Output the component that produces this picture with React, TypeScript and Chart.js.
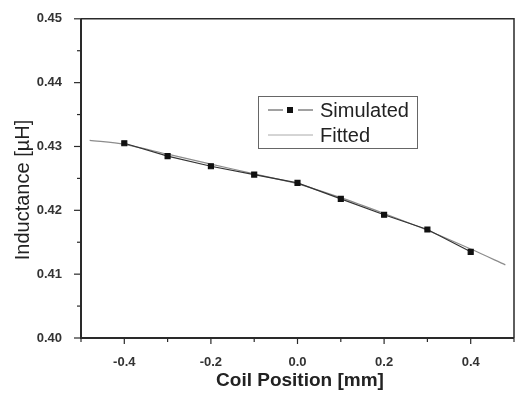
import { useEffect, useRef } from 'react';
import { Chart, registerables } from 'chart.js';

Chart.register(...registerables);

const simX = [-0.4, -0.3, -0.2, -0.1, 0.0, 0.1, 0.2, 0.3, 0.4];
const simY = [0.4305, 0.4285, 0.4269, 0.4256, 0.4243, 0.4218, 0.4193, 0.4170, 0.4135];

const fitX = [-0.48, -0.4, -0.3, -0.2, -0.1, 0.0, 0.1, 0.2, 0.3, 0.4, 0.48];
const fitY = [0.43096, 0.43034, 0.42879, 0.42724, 0.4257, 0.42415, 0.42198, 0.4195, 0.41687, 0.41393, 0.41146];

const xMajorTicks = [-0.4, -0.2, 0.0, 0.2, 0.4];
const yMajorTicks = [0.40, 0.41, 0.42, 0.43, 0.44, 0.45];

const X_TITLE = 'Coil Position [mm]';
const Y_TITLE = 'Inductance [µH]';
const LEGEND_LABELS = ['Simulated', 'Fitted'];

const FONT = '"Liberation Sans", Arial, sans-serif';

const decorPlugin = {
  id: 'decor',
  afterDraw(chart: any) {
    const ctx = chart.ctx;
    const { left, right, top, bottom } = chart.chartArea;
    const xs = chart.scales.x;
    const ys = chart.scales.y;
    ctx.save();
    ctx.strokeStyle = '#2a2a2a';
    // frame
    ctx.lineWidth = 1.5;
    ctx.beginPath();
    ctx.moveTo(left, top);
    ctx.lineTo(right, top);
    ctx.lineTo(right, bottom);
    ctx.stroke();
    ctx.lineWidth = 2;
    ctx.beginPath();
    ctx.moveTo(left, top);
    ctx.lineTo(left, bottom);
    ctx.lineTo(right, bottom);
    ctx.stroke();
    // x ticks
    ctx.lineWidth = 1.2;
    for (let i = -5; i <= 5; i++) {
      const v = i / 10;
      const px = xs.getPixelForValue(v);
      const major = i % 2 === 0;
      ctx.beginPath();
      ctx.moveTo(px, bottom);
      ctx.lineTo(px, bottom + (major ? 6 : 4));
      ctx.stroke();
    }
    // y ticks
    for (let i = 0; i <= 10; i++) {
      const v = 0.40 + i * 0.005;
      const py = ys.getPixelForValue(v);
      const major = i % 2 === 0;
      ctx.beginPath();
      ctx.moveTo(left, py);
      ctx.lineTo(left - (major ? 7 : 4), py);
      ctx.stroke();
    }
    // titles
    ctx.fillStyle = '#222';
    ctx.font = `bold 19px ${FONT}`;
    ctx.textAlign = 'center';
    ctx.textBaseline = 'middle';
    ctx.fillText(X_TITLE, 300, 381);
    ctx.save();
    ctx.translate(23, 190);
    ctx.rotate(-Math.PI / 2);
    ctx.font = `20px ${FONT}`;
    ctx.fillText(Y_TITLE, 0, 0);
    ctx.restore();
    // legend
    ctx.lineWidth = 1;
    ctx.strokeStyle = '#666';
    ctx.strokeRect(258.5, 96.5, 159, 52);
    const r1 = 110;
    const r2 = 135;
    ctx.strokeStyle = '#444';
    ctx.beginPath();
    ctx.moveTo(268, r1);
    ctx.lineTo(283, r1);
    ctx.moveTo(298, r1);
    ctx.lineTo(313, r1);
    ctx.stroke();
    ctx.fillStyle = '#111';
    ctx.fillRect(287, r1 - 3, 6, 6);
    ctx.strokeStyle = '#aaa';
    ctx.beginPath();
    ctx.moveTo(268, r2);
    ctx.lineTo(313, r2);
    ctx.stroke();
    ctx.fillStyle = '#222';
    ctx.font = `20px ${FONT}`;
    ctx.textAlign = 'left';
    ctx.fillText(LEGEND_LABELS[0], 320, r1 + 1);
    ctx.fillText(LEGEND_LABELS[1], 320, r2 + 1);
    ctx.restore();
  },
};

export default function App() {
  const ref = useRef<HTMLCanvasElement | null>(null);
  useEffect(() => {
    if (!ref.current) return;
    const chart = new Chart(ref.current, {
      type: 'scatter',
      data: {
        datasets: [
          {
            label: LEGEND_LABELS[1],
            data: fitX.map((x, i) => ({ x, y: fitY[i] })),
            showLine: true,
            borderColor: '#8c8c8c',
            borderWidth: 1.2,
            pointRadius: 0,
            tension: 0.3,
            order: 2,
          },
          {
            label: LEGEND_LABELS[0],
            data: simX.map((x, i) => ({ x, y: simY[i] })),
            showLine: true,
            borderColor: '#333',
            borderWidth: 1.2,
            pointStyle: 'rect',
            pointRadius: 3.5,
            pointBackgroundColor: '#111',
            pointBorderColor: '#111',
            order: 1,
          },
        ],
      },
      options: {
        responsive: false,
        animation: false,
        events: [],
        layout: { autoPadding: false, padding: { left: 0, top: 15, right: 1, bottom: 0 } },
        plugins: { legend: { display: false }, tooltip: { enabled: false } },
        scales: {
          x: {
            type: 'linear',
            min: -0.5,
            max: 0.5,
            afterFit: (s: any) => { s.height = 58; s.paddingLeft = 0; s.paddingRight = 0; },
            afterBuildTicks: (s: any) => { s.ticks = xMajorTicks.map((v) => ({ value: v })); },
            ticks: {
              autoSkip: false,
              maxRotation: 0,
              padding: 9,
              color: '#333',
              font: { family: FONT, size: 13, weight: 'bold' },
              callback: (v: any) => Number(v).toFixed(1),
            },
            grid: { display: false },
            border: { display: false },
          },
          y: {
            type: 'linear',
            min: 0.40,
            max: 0.45,
            afterFit: (s: any) => { s.width = 81; },
            afterBuildTicks: (s: any) => { s.ticks = yMajorTicks.map((v) => ({ value: v })); },
            ticks: {
              autoSkip: false,
              padding: 11,
              color: '#333',
              font: { family: FONT, size: 13, weight: 'bold' },
              callback: (v: any) => Number(v).toFixed(2),
            },
            grid: { display: false },
            border: { display: false },
          },
        },
      },
      plugins: [decorPlugin],
    } as any);
    return () => chart.destroy();
  }, []);
  return (
    <div style={{ position: 'fixed', left: 0, top: 0, width: 515, height: 396, background: '#fff' }}>
      <canvas ref={ref} width={515} height={396} style={{ display: 'block' }} />
    </div>
  );
}
